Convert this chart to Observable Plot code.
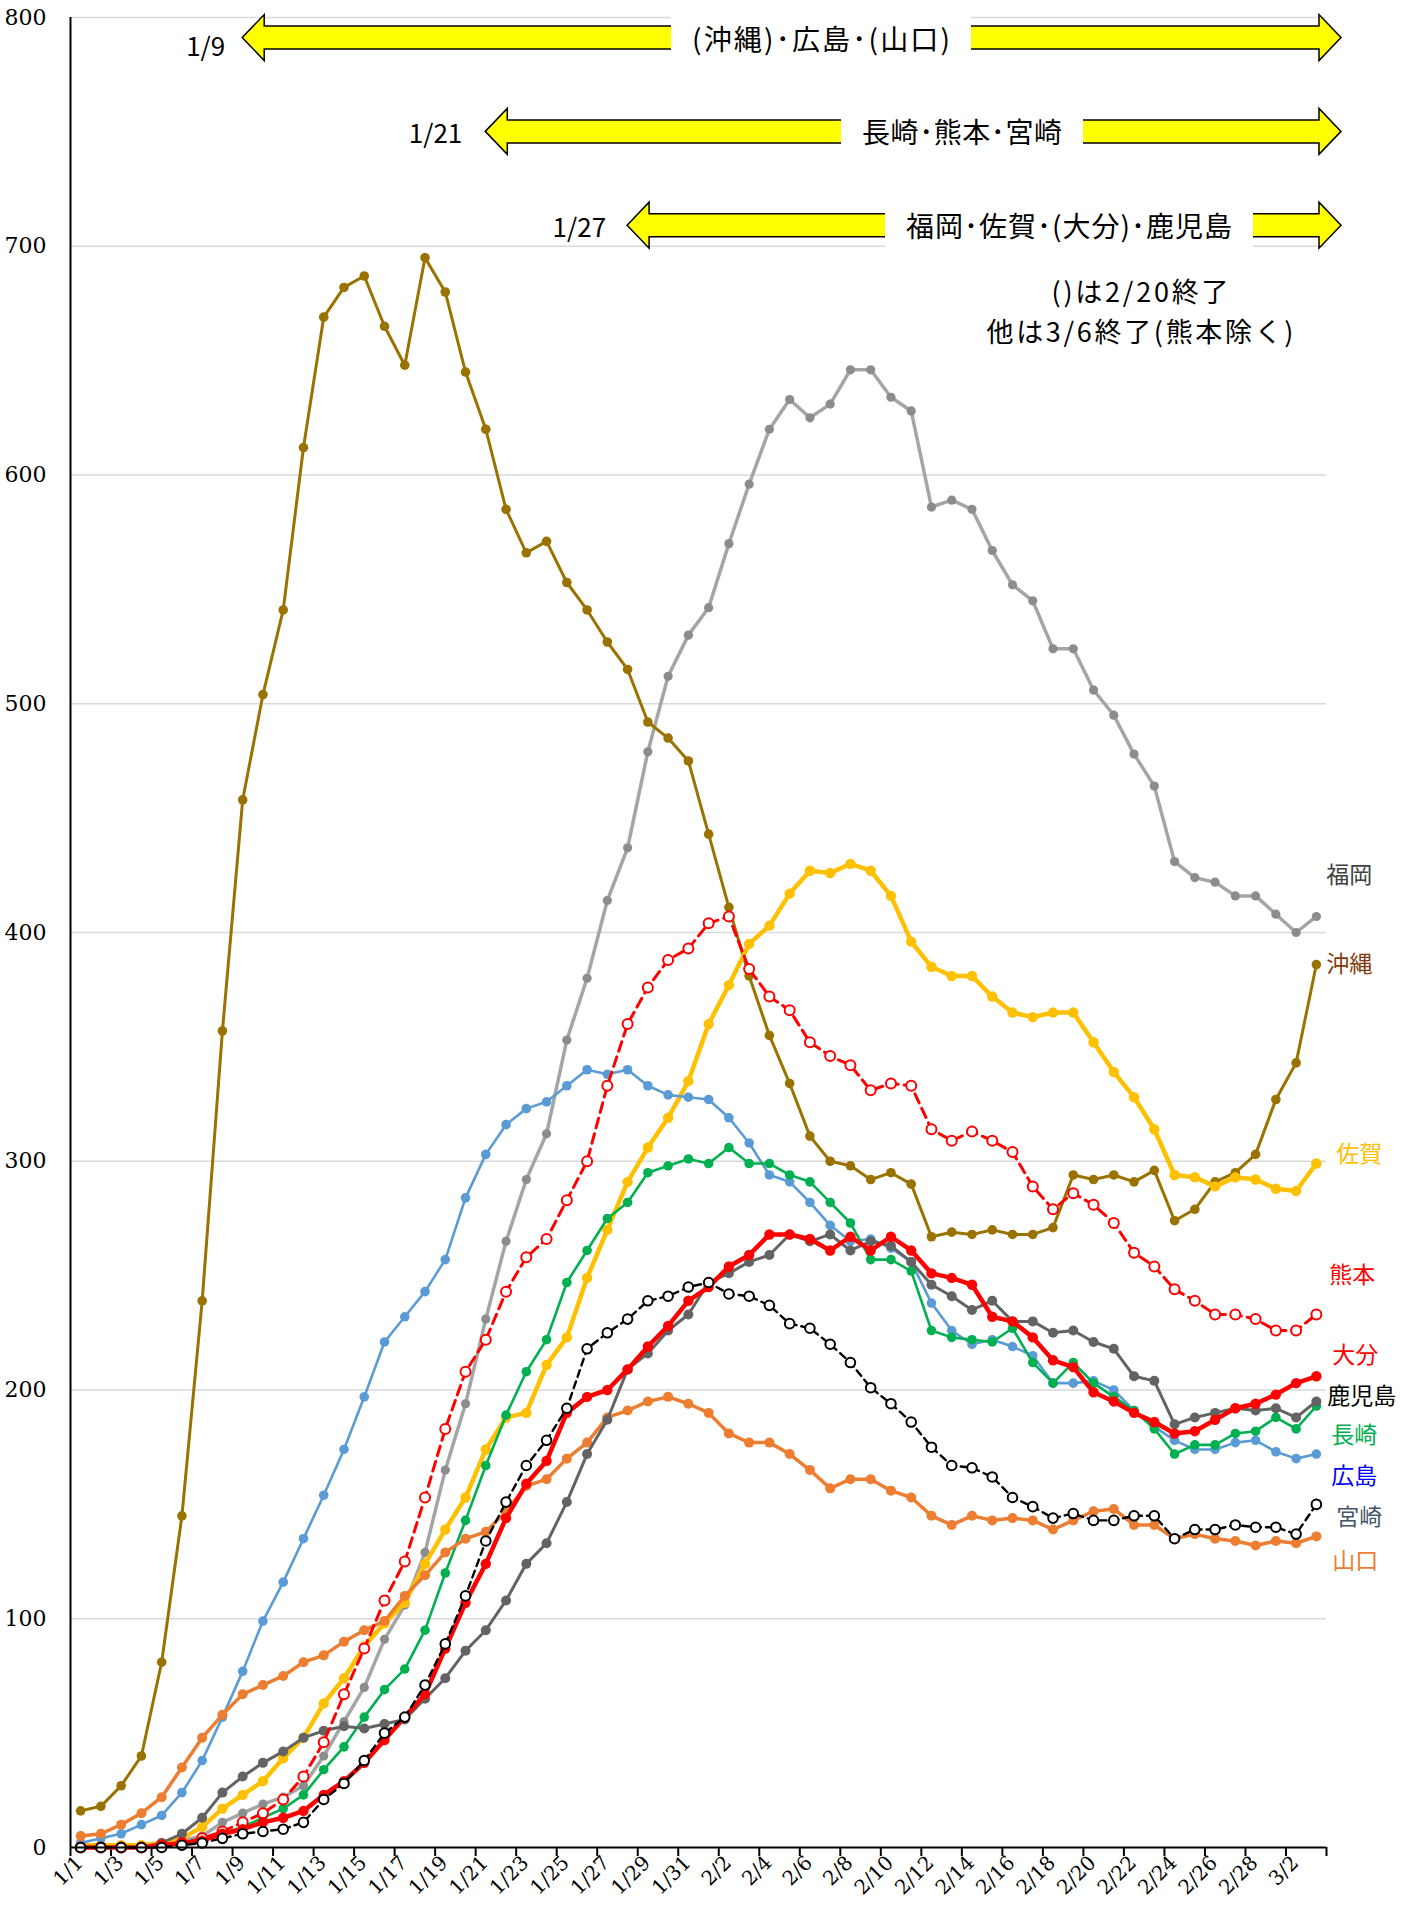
<!DOCTYPE html>
<html><head><meta charset="utf-8">
<script src="https://cdn.jsdelivr.net/npm/d3@7"></script>
<script src="https://cdn.jsdelivr.net/npm/@observablehq/plot@0.6"></script>
<style>body{margin:0;background:#fff}</style>
</head><body><div id="chart"></div>
<script>
const dates = ["1/1","1/2","1/3","1/4","1/5","1/6","1/7","1/8","1/9","1/10","1/11","1/12","1/13","1/14","1/15","1/16","1/17","1/18","1/19","1/20","1/21","1/22","1/23","1/24","1/25","1/26","1/27","1/28","1/29","1/30","1/31",
"2/1","2/2","2/3","2/4","2/5","2/6","2/7","2/8","2/9","2/10","2/11","2/12","2/13","2/14","2/15","2/16","2/17","2/18","2/19","2/20","2/21","2/22","2/23","2/24","2/25","2/26","2/27","2/28","3/1","3/2","3/3"];

const fukuoka   = [0,0,1,1,2,3,5,11,15,19,22,27,40,55,70,91,106,129,165,194,231,265,292,312,353,380,414,437,479,512,530,542,570,596,620,633,625,631,646,646,634,628,586,589,585,567,552,545,524,524,506,495,478,464,431,424,422,416,416,408,400,407];
const okinawa   = [16,18,27,40,81,145,239,357,458,504,541,612,669,682,687,665,648,695,680,645,620,585,566,571,553,541,527,515,492,485,475,443,411,381,355,334,311,300,298,292,295,290,267,269,268,270,268,268,271,294,292,294,291,296,274,279,291,295,303,327,343,386];
const saga      = [1,1,1,1,2,4,9,17,23,29,39,48,63,74,88,98,107,124,139,153,174,188,190,211,223,249,270,291,306,319,335,360,377,395,403,417,427,426,430,427,416,396,385,381,381,372,365,363,365,365,352,339,328,314,294,293,289,293,292,288,287,299];
const kumamoto  = [0,0,0,0,1,2,4,7,11,15,21,31,46,67,87,108,125,153,183,208,222,243,258,266,283,300,333,360,376,388,393,404,407,384,372,366,352,346,342,331,334,333,314,309,313,309,304,289,279,286,281,273,260,254,244,239,233,233,231,226,226,233];
const oita      = [0,0,0,0,1,2,3,6,8,11,13,16,23,29,37,47,57,67,87,107,124,144,159,169,190,197,200,209,219,228,239,245,254,259,268,268,266,261,267,261,267,261,251,249,246,232,230,223,213,210,199,195,190,186,181,182,187,192,194,198,203,206];
const kagoshima = [0,0,0,0,2,6,13,24,31,37,42,48,51,53,52,54,56,65,74,86,95,108,124,133,151,172,187,209,216,226,233,247,251,256,259,268,265,268,261,265,263,256,246,241,235,239,230,230,225,226,221,218,206,204,185,188,190,192,191,192,188,195];
const nagasaki  = [0,0,0,0,1,2,4,6,9,13,17,23,34,44,57,69,78,95,120,143,167,189,208,222,247,261,275,282,295,298,301,299,306,299,299,294,291,282,273,257,257,252,226,223,222,221,227,212,203,212,203,197,191,183,172,176,176,181,182,188,183,193];
const hiroshima = [2,4,6,10,14,24,38,57,77,99,116,135,154,174,197,221,232,243,257,284,303,316,323,326,333,340,338,340,333,329,328,327,319,308,294,291,282,272,265,266,262,256,238,226,220,222,219,215,203,203,204,200,191,184,178,174,174,177,178,173,170,172];
const miyazaki  = [0,0,0,0,0,1,2,4,6,7,8,11,21,28,38,50,57,71,89,110,134,151,167,178,192,218,225,231,239,241,245,247,242,241,237,229,227,220,212,201,194,186,175,167,166,162,153,149,144,146,143,143,145,145,135,139,139,141,140,140,137,150];
const yamaguchi = [5,6,10,15,22,35,48,58,67,71,75,81,84,90,95,99,110,119,129,135,138,147,158,161,170,177,188,191,195,197,194,190,181,177,177,172,165,157,161,161,156,153,145,141,145,143,144,143,139,143,147,148,141,141,135,137,135,134,132,134,133,136];

const yTicks = [0,100,200,300,400,500,600,700,800];
const seriesNames = ["福岡","沖縄","佐賀","熊本","大分","鹿児島","長崎","広島","宮崎","山口"];
const labelValues = [425,386,303,250,215,197,180,162,144,125];
const arrowTexts = ["(沖縄)･広島･(山口)","長崎･熊本･宮崎","福岡･佐賀･(大分)･鹿児島"];
const arrowDateLabels = ["1/9","1/21","1/27"];
const arrowStartDates = ["1/9","1/21","1/28"];
const arrowLevels = [791,750,709];
const noteLines = ["()は2/20終了","他は3/6終了(熊本除く)"];

const values = {"福岡":fukuoka,"沖縄":okinawa,"佐賀":saga,"熊本":kumamoto,"大分":oita,"鹿児島":kagoshima,"長崎":nagasaki,"広島":hiroshima,"宮崎":miyazaki,"山口":yamaguchi};

const styles = {
  "福岡":  {stroke:"#A5A5A5", dot:"#8C8C8C", sw:3.5, r:4.6, label:"#404040", dx:10},
  "沖縄":  {stroke:"#9A7200", dot:"#9A7200", sw:3,   r:4.8, label:"#843C0C", dx:10},
  "佐賀":  {stroke:"#FFC000", dot:"#FFC000", sw:4.5, r:5.2, label:"#FFC000", dx:20},
  "熊本":  {stroke:"#FF0000", open:true, dash:"10,6", sw:3, r:5, label:"#FF0000", dx:13},
  "大分":  {stroke:"#FF0000", dot:"#FF0000", sw:4.5, r:5.2, label:"#FF0000", dx:16},
  "鹿児島":{stroke:"#636363", dot:"#636363", sw:3,   r:5,   label:"#000000", dx:11},
  "長崎":  {stroke:"#00B050", dot:"#00B050", sw:2.6, r:4.8, label:"#00B050", dx:15},
  "広島":  {stroke:"#5B9BD5", dot:"#5B9BD5", sw:2.6, r:4.8, label:"#0000FF", dx:15},
  "宮崎":  {stroke:"#000000", open:true, dash:"7,5", sw:2.4, r:4.8, label:"#44546A", dx:20},
  "山口":  {stroke:"#ED7D31", dot:"#ED7D31", sw:3.5, r:5,   label:"#ED7D31", dx:16}
};
const drawOrder = ["福岡","沖縄","佐賀","広島","長崎","山口","鹿児島","熊本","大分","宮崎"];

const labelIdx = dates.map((d,i)=>i).filter(i => i % 2 === 0);
const boundaries = d3.range(-0.5, dates.length, 2);
const lastIdx = dates.length - 1;
const jp = "'Noto Sans CJK JP', sans-serif";

const seriesMarks = drawOrder.flatMap(name => {
  const s = styles[name];
  const rows = values[name].map((v,i)=>({i, v}));
  return [
    Plot.line(rows, {x:"i", y:"v", stroke:s.stroke, strokeWidth:s.sw, strokeDasharray:s.dash, strokeLinejoin:"round"}),
    Plot.dot(rows, {x:"i", y:"v", r:s.r, fill: s.open ? "#ffffff" : s.dot, stroke: s.open ? s.stroke : "none", strokeWidth: s.open ? 2 : 0})
  ];
});

const labelMarks = seriesNames.map((name,k) => Plot.text([name], {
  x: () => lastIdx, y: () => labelValues[k], text: d => d,
  dx: styles[name].dx, textAnchor: "start", fill: styles[name].label,
  fontSize: 23, fontFamily: jp
}));

const chart = Plot.plot({
  width: 1414, height: 1912,
  marginLeft: 70, marginRight: 88, marginTop: 17, marginBottom: 65,
  style: {fontFamily: "'DejaVu Serif', serif", background: "#ffffff", overflow: "visible", color: "#000"},
  x: {type: "linear", domain: [-0.5, dates.length - 0.5]},
  y: {type: "linear", domain: [0, 800]},
  marks: [
    Plot.gridY(yTicks.filter(v => v > 0), {stroke: "#D9D9D9", strokeOpacity: 1, strokeWidth: 1.5}),
    Plot.axisY(yTicks, {tickSize: 0, tickPadding: 24, fontSize: 22, label: null}),
    Plot.axisX(labelIdx, {tickSize: 0, tickPadding: 12, tickRotate: -45, tickFormat: i => dates[i], fontSize: 20, dx: -1, label: null}),
    Plot.axisX(boundaries, {tickSize: 9, tickFormat: () => "", stroke: "#000", strokeWidth: 2, strokeOpacity: 1, label: null}),
    ...seriesMarks,
    Plot.ruleY([0], {stroke: "#000", strokeWidth: 2}),
    Plot.ruleX([-0.5], {stroke: "#000", strokeWidth: 2}),
    ...labelMarks
  ]
});
document.getElementById("chart").appendChild(chart);

// annotations: block arrows drawn with the plot's own scales
const sx = chart.scale("x"), sy = chart.scale("y");
const svg = d3.select(chart);
const g = svg.append("g");
const xEnd = sx.apply(dates.length - 0.5) + 15;
const boxCenters = [821, 962, 1069];
const textWidths = [258, 200, 326];
const dateGap = [17, 23, 21];
arrowTexts.forEach((t, k) => {
  const x0 = sx.apply(dates.indexOf(arrowStartDates[k]));
  const yc = sy.apply(arrowLevels[k]);
  const hl = 22, hh = 23, sh = 11.5;
  const p = [[x0,yc],[x0+hl,yc-hh],[x0+hl,yc-sh],[xEnd-hl,yc-sh],[xEnd-hl,yc-hh],[xEnd,yc],
             [xEnd-hl,yc+hh],[xEnd-hl,yc+sh],[x0+hl,yc+sh],[x0+hl,yc+hh]];
  g.append("path").attr("d", "M" + p.map(q => q.join(",")).join("L") + "Z")
    .attr("fill", "#FFFF00").attr("stroke", "#000").attr("stroke-width", 1.5).attr("stroke-linejoin", "miter");
  const w = textWidths[k] + 42;
  g.append("rect").attr("x", boxCenters[k] - w/2).attr("y", yc - 26).attr("width", w).attr("height", 52).attr("fill", "#fff");
  g.append("text").attr("x", boxCenters[k]).attr("y", yc).attr("text-anchor", "middle").attr("dominant-baseline", "central")
    .attr("font-family", jp).attr("font-size", 28).attr("fill", "#000")
    .attr("textLength", textWidths[k]).attr("lengthAdjust", "spacing").text(t);
  g.append("text").attr("x", x0 - dateGap[k]).attr("y", yc + (k === 0 ? 7 : 0)).attr("text-anchor", "end").attr("dominant-baseline", "central")
    .attr("font-family", jp).attr("font-size", 26).attr("fill", "#000").text(arrowDateLabels[k]);
});
const noteY = [290, 330], noteW = [177, 307];
noteLines.forEach((t, k) => {
  g.append("text").attr("x", 1140).attr("y", noteY[k]).attr("text-anchor", "middle").attr("dominant-baseline", "central")
    .attr("font-family", jp).attr("font-size", 27).attr("fill", "#000")
    .attr("textLength", noteW[k]).attr("lengthAdjust", "spacing").text(t);
});
</script>
</body></html>
